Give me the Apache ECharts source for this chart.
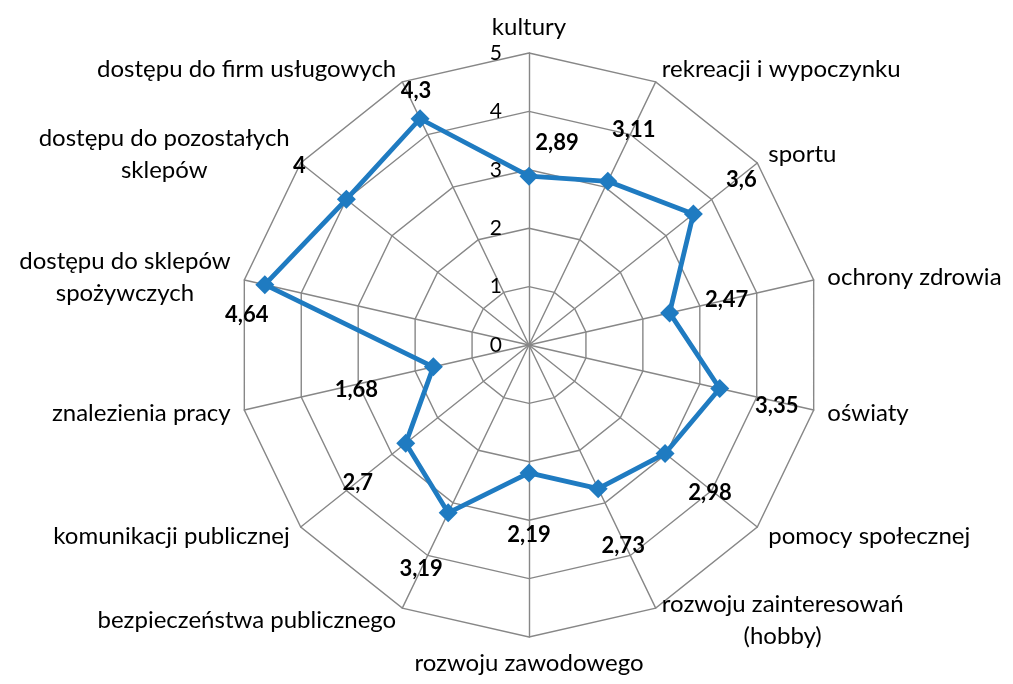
<!DOCTYPE html>
<html>
<head>
<meta charset="utf-8">
<script src="https://cdn.jsdelivr.net/npm/echarts@6/dist/echarts.min.js"></script>
<style>
  html, body { margin: 0; padding: 0; background: #fff; }
  #chart { width: 1013px; height: 684px; }
</style>
</head>
<body>
<div id="chart"></div>
<script>
// kategorie w kolejności zgodnej z ruchem wskazówek zegara, od góry
const categories = [
  'kultury',
  'rekreacji i wypoczynku',
  'sportu',
  'ochrony zdrowia',
  'oświaty',
  'pomocy społecznej',
  'rozwoju zainteresowań\n(hobby)',
  'rozwoju zawodowego',
  'bezpieczeństwa publicznego',
  'komunikacji publicznej',
  'znalezienia pracy',
  'dostępu do sklepów\nspożywczych',
  'dostępu do pozostałych\nsklepów',
  'dostępu do firm usługowych'
];
const values = [2.89, 3.11, 3.6, 2.47, 3.35, 2.98, 2.73, 2.19, 3.19, 2.7, 1.68, 4.64, 4, 4.3];
const tickLabels = ['0', '1', '2', '3', '4', '5'];

// przesunięcia etykiet danych względem punktu (px)
const labelOffsets = [
  [28, -33], [26, -51], [48, -34], [57, -13], [57, 17], [45, 39], [25, 57],
  [0, 62], [-27, 56], [-48, 40], [-77, 23], [-18, 30], [-47, -33], [-4, -28]
];

const FONT = 'Lato, "Open Sans", sans-serif';
const n = categories.length;
// echarts rysuje wskaźniki przeciwnie do ruchu wskazówek zegara, więc odwracamy kolejność
const order = categories.map((_, k) => (n - k) % n);
const toRadar = arr => order.map(i => arr[i]);
const fmt = v => String(v).replace('.', ',');

const chart = echarts.init(document.getElementById('chart'));

const indicator = order.map((i, k) => {
  const ind = { name: categories[i], min: 0, max: 5 };
  if (k === 0) {
    ind.axisLabel = {
      show: true,
      color: '#000',
      fontSize: 21,
      fontFamily: FONT,
      margin: 27,
      padding: [8, 0, 0, 0],
      formatter: v => tickLabels[Math.round(v)] || ''
    };
  }
  return ind;
});

const labelSeries = values.map((v, i) => ({
  type: 'radar',
  silent: true,
  z: 5,
  symbol: 'circle',
  symbolSize: 1,
  itemStyle: { color: 'rgba(0,0,0,0)' },
  lineStyle: { opacity: 0 },
  label: {
    show: true,
    position: 'inside',
    offset: labelOffsets[i],
    color: '#000',
    fontSize: 22,
    fontWeight: 'bold',
    fontFamily: FONT,
    formatter: p => {
      const val = Array.isArray(p.value) ? null : p.value;
      return val ? fmt(val) : '';
    }
  },
  data: [{ value: toRadar(values.map((x, j) => (j === i ? x : 0))) }]
}));

const option = {
  animation: false,
  radar: {
    center: [529, 345],
    radius: 292,
    startAngle: 90,
    splitNumber: 5,
    shape: 'polygon',
    nameGap: 14,
    indicator: indicator,
    axisName: {
      color: '#000',
      fontSize: 24,
      fontFamily: FONT,
      formatter: name => name.includes('\n')
        ? name.split('\n').map(l => '{c|' + l + '}').join('\n')
        : name,
      rich: {
        c: { align: 'center', color: '#000', fontSize: 24, fontFamily: FONT, lineHeight: 32 }
      }
    },
    axisLine: { lineStyle: { color: '#878787', width: 1.4 } },
    splitLine: { lineStyle: { color: '#878787', width: 1.4 } },
    splitArea: { show: false },
    axisTick: { show: false },
    axisLabel: { show: false }
  },
  series: [
    {
      type: 'radar',
      z: 3,
      symbol: 'diamond',
      symbolSize: 19,
      itemStyle: { color: '#1F7BC1' },
      lineStyle: { color: '#1F7BC1', width: 4.8 },
      label: { show: false },
      data: [{ value: toRadar(values), name: 'ocena' }]
    }
  ].concat(labelSeries)
};

chart.setOption(option);
</script>
</body>
</html>
